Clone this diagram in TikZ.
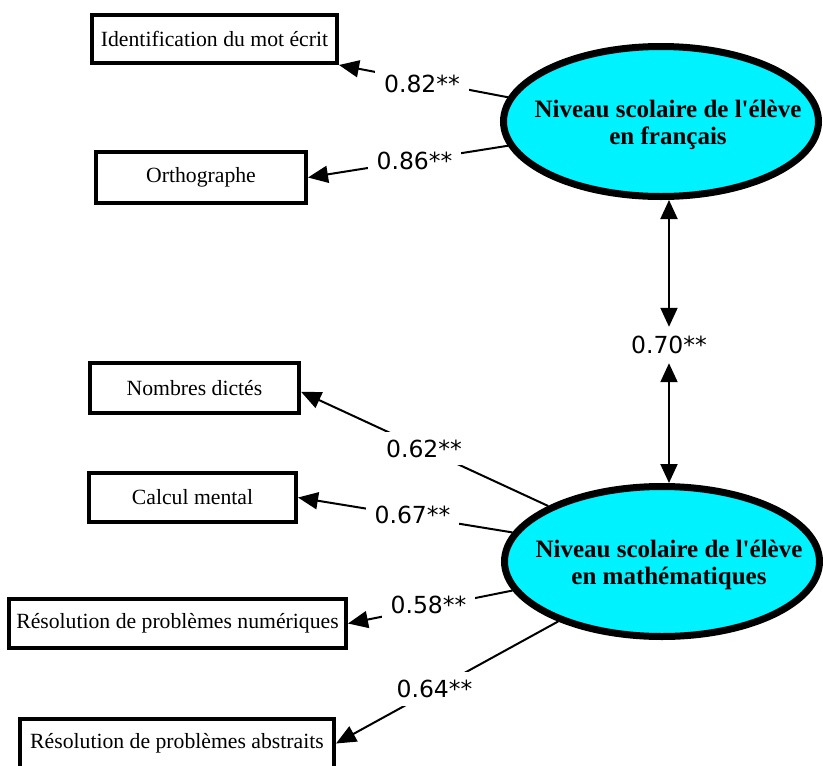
\documentclass[tikz,border=0pt]{standalone}
\usepackage{fontspec}
\setmainfont{Liberation Serif}
\newfontfamily\latfont{Liberation Serif}[Ligatures=TeXOff]
\newfontfamily\labfont{DejaVu Sans}
\usetikzlibrary{shapes.geometric,arrows.meta}
\definecolor{latcyan}{RGB}{0,242,255}
\begin{document}
\begin{tikzpicture}[x=1pt,y=-1pt,
  obs/.style={draw,line width=4pt,rectangle,inner sep=0pt,font=\fontsize{21.7}{26}\selectfont},
  lat/.style={draw,line width=7pt,ellipse,fill=latcyan,minimum width=315pt,minimum height=150pt,inner sep=0pt},
  lattext/.style={align=center,font=\latfont\fontsize{25}{26.5}\selectfont\bfseries,inner sep=0pt},
  coef/.style={fill=white,inner xsep=9pt,inner ysep=8pt,font=\labfont\fontsize{23.5}{28}\selectfont},
  conn/.style={line width=2pt,-{Triangle[length=20pt,width=17pt]}},
  dbl/.style={line width=2pt,{Triangle[length=19pt,width=17pt]}-{Triangle[length=19pt,width=17pt]}}
]
\useasboundingbox (0,0) rectangle (823,766);
% observed variables
\node[obs,minimum width=245pt,minimum height=48pt] (id) at (214.5,39) {Identification du mot écrit};
\node[obs,minimum width=210pt,minimum height=51pt] (or) at (201,177.5) {Orthographe};
\node[obs,minimum width=209pt,minimum height=50pt] (nd) at (194.5,388) {Nombres dictés};
\node[obs,minimum width=207pt,minimum height=49pt] (cm) at (192.5,497.5) {Calcul mental};
\node[obs,minimum width=337pt,minimum height=49pt] (rn) at (177.5,623.5) {Résolution de problèmes numériques};
\node[obs,minimum width=314pt,minimum height=49pt] (ra) at (177,743.5) {Résolution de problèmes abstraits};
% latent variables
\node[lat] (fr) at (661,121.5) {};
\node[lattext] (frt) at (668,125) {Niveau scolaire de l'élève\\en français};
\node[lat] (ma) at (662,561.5) {};
\node[lattext] (mat) at (669,565) {Niveau scolaire de l'élève\\en mathématiques};
% loadings
\draw[conn] (fr.171) -- (id.south east);
\draw[conn] (fr.189.4) -- (or.east);
\draw[conn] (ma.154.4) -- (nd.-2.5);
\draw[conn] (ma.169.6) -- (cm.east);
\draw[conn] (ma.191) -- (rn.east);
\draw[conn] (ma.210.4) -- (ra.east);
\node[coef] (c1) at (422,84) {0.82**};
\node[coef] (c2) at (414.5,160.5) {0.86**};
\node[coef] (c3) at (424,448.5) {0.62**};
\node[coef] (c4) at (412.5,515) {0.67**};
\node[coef] (c5) at (428.5,605) {0.58**};
\node[coef] (c6) at (434.5,689) {0.64**};
% correlation
\node[coef,minimum height=36pt,inner ysep=0pt] (c7) at (669,345) {0.70**};
\draw[dbl] (c7.north |- fr.south) -- (c7.north);
\draw[dbl] (c7.south) -- (c7.south |- ma.north);
\end{tikzpicture}
\end{document}
